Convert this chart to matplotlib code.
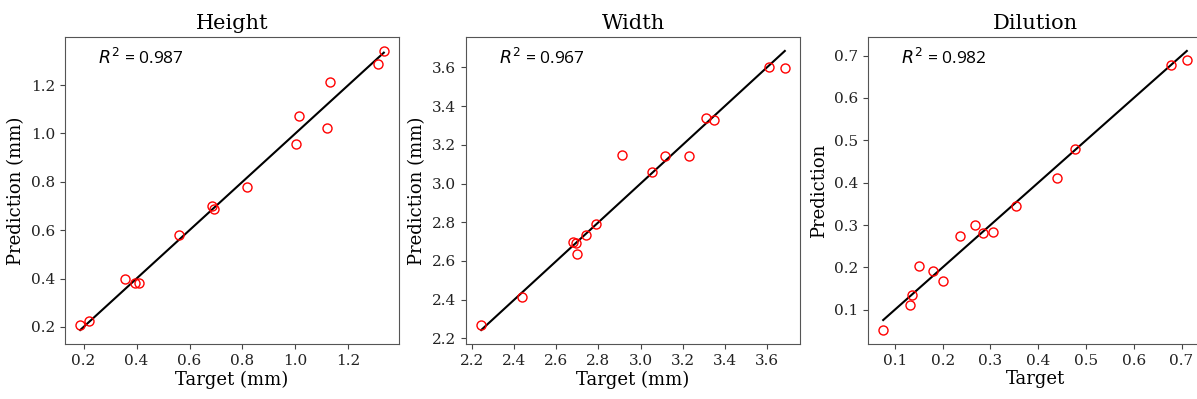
import numpy as np
import matplotlib
matplotlib.use("Agg")
import matplotlib.pyplot as plt

plt.rcParams["font.family"] = ["DejaVu Serif"]
plt.rcParams["mathtext.fontset"] = "dejavusans"

# Height panel
height_target = [0.187, 0.221, 0.358, 0.394, 0.411, 0.562, 0.685, 0.694, 0.817,
                 1.004, 1.015, 1.119, 1.132, 1.313, 1.334]
height_pred = [0.208, 0.226, 0.400, 0.383, 0.383, 0.578, 0.701, 0.688, 0.778,
               0.958, 1.074, 1.023, 1.211, 1.285, 1.341]

# Width panel
width_target = [2.243, 2.437, 2.680, 2.695, 2.700, 2.742, 2.790, 2.911, 3.055,
                3.118, 3.230, 3.309, 3.350, 3.608, 3.685]
width_pred = [2.268, 2.415, 2.697, 2.692, 2.635, 2.733, 2.789, 3.149, 3.061,
              3.144, 3.144, 3.339, 3.329, 3.600, 3.597]

# Dilution panel
dilution_target = [0.0756, 0.131, 0.136, 0.150, 0.180, 0.201, 0.237, 0.268, 0.285,
                   0.305, 0.353, 0.440, 0.476, 0.678, 0.711]
dilution_pred = [0.052, 0.110, 0.134, 0.203, 0.191, 0.168, 0.273, 0.300, 0.280,
                 0.283, 0.344, 0.410, 0.480, 0.679, 0.689]

titles = ["Height", "Width", "Dilution"]
xlabels = ["Target (mm)", "Target (mm)", "Target"]
ylabels = ["Prediction (mm)", "Prediction (mm)", "Prediction"]
r2_values = ["0.987", "0.967", "0.982"]
ticks = [[0.2, 0.4, 0.6, 0.8, 1.0, 1.2],
         [2.2, 2.4, 2.6, 2.8, 3.0, 3.2, 3.4, 3.6],
         [0.1, 0.2, 0.3, 0.4, 0.5, 0.6, 0.7]]

data = [(height_target, height_pred),
        (width_target, width_pred),
        (dilution_target, dilution_pred)]

fig = plt.figure(figsize=(11.97, 3.99), dpi=100)
W, H = 1197, 399
lefts = [65, 466, 868]

for i, (target, pred) in enumerate(data):
    ax = fig.add_axes([lefts[i] / W, 55 / H, 334 / W, 307 / H])
    target = np.array(target)
    pred = np.array(pred)
    lo, hi = target.min(), target.max()
    ax.plot([lo, hi], [lo, hi], color="black", lw=1.5)
    ax.plot(target, pred, "o", mfc="none", mec="red", ms=6.5, mew=1.0)
    ax.set_xticks(ticks[i])
    ax.set_yticks(ticks[i])
    ax.set_title(titles[i], fontsize=15)
    ax.set_xlabel(xlabels[i], fontsize=13, labelpad=2)
    ax.set_ylabel(ylabels[i], fontsize=13, labelpad=4)
    ax.tick_params(labelsize=11, color="#444444", labelcolor="#222222")
    for s in ax.spines.values():
        s.set_color("#555555")
    ax.text(0.1, 0.9, "$R^2$ = " + r2_values[i], transform=ax.transAxes,
            fontsize=12.5, family=["Open Sans", "DejaVu Sans"], va="bottom")

fig.savefig("out.png", dpi=100)
